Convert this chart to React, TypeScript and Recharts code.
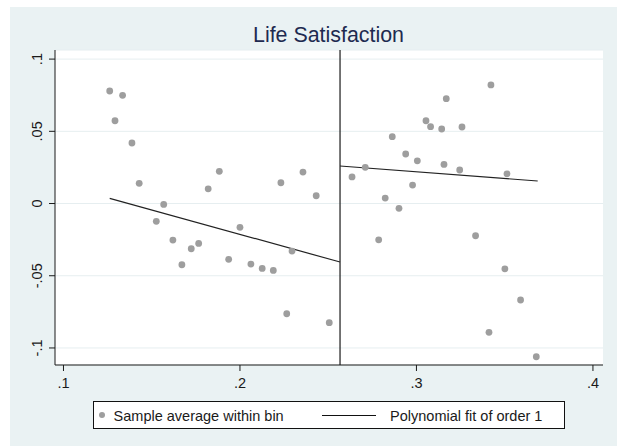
import React from "react";
import {
  ComposedChart,
  Scatter,
  Line,
  XAxis,
  YAxis,
  CartesianGrid,
  ReferenceLine,
  Legend,
} from "recharts";

// Binned sample averages (running variable vs. outcome)
const binX = [
  0.1262, 0.1292, 0.1335, 0.1388, 0.1429, 0.1526, 0.1568, 0.162, 0.1671, 0.1724,
  0.1766, 0.182, 0.1883, 0.1936, 0.2, 0.2062, 0.2126, 0.2189, 0.2232, 0.2265,
  0.2295, 0.2357, 0.2432, 0.2506, 0.2635, 0.271, 0.2786, 0.2823, 0.2863, 0.2901,
  0.2939, 0.2978, 0.3005, 0.3054, 0.308, 0.3143, 0.3156, 0.3169, 0.3245, 0.3258,
  0.3335, 0.3411, 0.3422, 0.3501, 0.3513, 0.359, 0.3679,
];
const binY = [
  0.0779, 0.0573, 0.0749, 0.0419, 0.014, -0.0123, -0.0006, -0.0253, -0.0424, -0.0313,
  -0.0276, 0.0102, 0.0223, -0.0386, -0.0165, -0.0419, -0.0449, -0.0463, 0.0144, -0.0763,
  -0.0329, 0.0218, 0.0054, -0.0825, 0.0184, 0.0251, -0.0251, 0.0038, 0.0463, -0.0033,
  0.0343, 0.0128, 0.0296, 0.0573, 0.0532, 0.0516, 0.0271, 0.0726, 0.0232, 0.053,
  -0.0223, -0.0892, 0.0821, -0.0452, 0.0206, -0.0668, -0.1061,
];

// Linear fits on each side of the cutoff
const cutoff = 0.2567;
const fitLeftX = [0.1262, 0.2567];
const fitLeftY = [0.0036, -0.0405];
const fitRightX = [0.2567, 0.3687];
const fitRightY = [0.026, 0.0156];

const xTicks = [0.1, 0.2, 0.3, 0.4];
const yTicks = [-0.1, -0.05, 0, 0.05, 0.1];

const title = "Life Satisfaction";
const legendLabels = ["Sample average within bin", "Polynomial fit of order 1"];

const points = binX.map((x, i) => ({ x, y: binY[i] }));
const fitLeft = fitLeftX.map((x, i) => ({ x, y: fitLeftY[i] }));
const fitRight = fitRightX.map((x, i) => ({ x, y: fitRightY[i] }));

const FONT = '"Liberation Sans", Arial, Helvetica, sans-serif';
const BG = "#EAF2F3";
const DOT = "#9E9E9E";
const INK = "#1a1a1a";

// Stata-style tick label: drop the leading zero
const fmt = (v: number) => {
  if (v === 0) return "0";
  const s = String(v);
  return s.replace(/^(-?)0\./, "$1.");
};

const YTick = (props: any) => {
  const { y, payload } = props;
  const bx = 32;
  return (
    <text
      x={bx}
      y={y}
      transform={`rotate(-90, ${bx}, ${y})`}
      textAnchor="middle"
      fontFamily={FONT}
      fontSize={14.5}
      fill={INK}
    >
      {fmt(payload.value)}
    </text>
  );
};

const XTick = (props: any) => {
  const { x, payload } = props;
  return (
    <text
      x={x}
      y={380.5}
      textAnchor="middle"
      fontFamily={FONT}
      fontSize={14.5}
      fill={INK}
    >
      {fmt(payload.value)}
    </text>
  );
};

const Dot = (props: any) => {
  const { cx, cy } = props;
  return <circle cx={cx} cy={cy} r={3.4} fill={DOT} />;
};

const LegendBox = () => (
  <div
    style={{
      position: "relative",
      width: 472,
      height: 28,
      boxSizing: "border-box",
      border: "1px solid #111",
      background: "#fff",
      fontFamily: FONT,
      fontSize: 14.5,
      color: INK,
    }}
  >
    <div
      style={{
        position: "absolute",
        left: 5.5,
        top: 10,
        width: 6,
        height: 6,
        borderRadius: "50%",
        background: DOT,
      }}
    />
    <div style={{ position: "absolute", left: 20, top: 6, lineHeight: "17px", whiteSpace: "nowrap" }}>
      {legendLabels[0]}
    </div>
    <div
      style={{
        position: "absolute",
        left: 228.5,
        top: 12.5,
        width: 54,
        height: 0,
        borderTop: "1.2px solid #111",
      }}
    />
    <div style={{ position: "absolute", left: 296.5, top: 6, lineHeight: "17px", whiteSpace: "nowrap" }}>
      {legendLabels[1]}
    </div>
  </div>
);

export default function App() {
  return (
    <div
      style={{
        position: "absolute",
        left: 10,
        top: 7,
        width: 607,
        height: 439,
        background: BG,
      }}
    >
      <div
        style={{
          position: "absolute",
          left: 0,
          width: 637,
          top: 18,
          textAlign: "center",
          fontFamily: FONT,
          fontSize: 21.4,
          lineHeight: 1,
          color: "#1E2A50",
          whiteSpace: "nowrap",
        }}
      >
        {title}
      </div>
      <ComposedChart
        width={607}
        height={439}
        margin={{ top: 43, right: 14, bottom: 51, left: 10 }}
      >
        <CartesianGrid
          fill="#ffffff"
          vertical={false}
          stroke="#E6EEF0"
          strokeWidth={1}
        />
        <XAxis
          type="number"
          dataKey="x"
          domain={[0.0952, 0.4057]}
          ticks={xTicks}
          allowDataOverflow
          height={30}
          tickSize={6}
          tickMargin={2}
          axisLine={{ stroke: INK, strokeWidth: 1 }}
          tickLine={{ stroke: INK, strokeWidth: 1 }}
          tick={<XTick />}
        />
        <YAxis
          type="number"
          dataKey="y"
          domain={[-0.1118, 0.1063]}
          ticks={yTicks}
          allowDataOverflow
          width={35}
          tickSize={6}
          tickMargin={2}
          axisLine={{ stroke: INK, strokeWidth: 1 }}
          tickLine={{ stroke: INK, strokeWidth: 1 }}
          tick={<YTick />}
        />
        <ReferenceLine x={cutoff} stroke={INK} strokeWidth={1.2} />
        <Scatter
          name={legendLabels[0]}
          data={points}
          dataKey="y"
          fill={DOT}
          shape={<Dot />}
          isAnimationActive={false}
        />
        <Line
          name={legendLabels[1]}
          data={fitLeft}
          dataKey="y"
          type="linear"
          stroke="#222"
          strokeWidth={1.2}
          dot={false}
          activeDot={false}
          isAnimationActive={false}
        />
        <Line
          data={fitRight}
          dataKey="y"
          type="linear"
          stroke="#222"
          strokeWidth={1.2}
          dot={false}
          activeDot={false}
          legendType="none"
          isAnimationActive={false}
        />
        <Legend
          verticalAlign="middle"
          align="center"
          content={<LegendBox />}
          wrapperStyle={{ position: "absolute", left: 82.6, top: 394, width: 472 }}
        />
      </ComposedChart>
    </div>
  );
}
